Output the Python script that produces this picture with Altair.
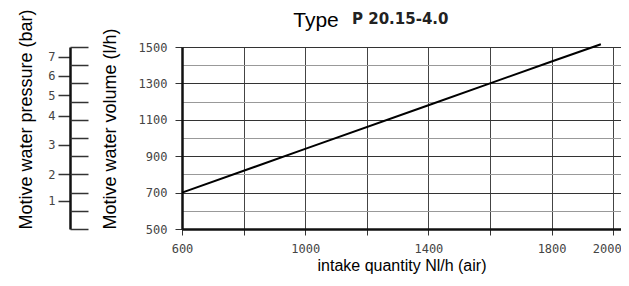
import altair as alt
import pandas as pd

# ---- data ----
intake = [600, 1000, 1400, 1600, 1800, 1960]          # Nl/h (air)
volume = [700, 940, 1180, 1300, 1420, 1515]           # l/h

x_grid = [600, 800, 1000, 1200, 1400, 1600, 1800, 2000]
x_labels = [600, 1000, 1400, 1800, 2000]
y_grid = [500, 600, 700, 800, 900, 1000, 1100, 1200, 1300, 1400, 1500]
y_labels = [500, 700, 900, 1100, 1300, 1500]

pressure_labels = ["1", "2", "3", "4", "5", "6", "7"]
pressure_pos = [654, 802, 962, 1121, 1236, 1341, 1447]   # position on volume scale

title_word = "Type"
title_type = "P 20.15-4.0"

W = 439
H = 182
PRESS_OFFSET = 112

df = pd.DataFrame({"intake": intake, "volume": volume})

yscale = alt.Scale(domain=[500, 1500], nice=False, zero=False)
xscale = alt.Scale(domain=[600, 600 + W / 0.308], nice=False, zero=False)

x_lab_expr = "indexof([" + ",".join(str(v) for v in x_labels) + "], datum.value) >= 0 ? datum.label : ''"
y_lab_expr = "indexof([" + ",".join(str(v) for v in y_labels) + "], datum.value) >= 0 ? datum.label : ''"
y_major_test = "indexof([" + ",".join(str(v) for v in y_labels) + "], datum.value) >= 0"
last_x_test = "datum.value == " + str(x_labels[-1])
p_lab_expr = ("[" + ",".join("'" + s + "'" for s in pressure_labels) + "][indexof(["
              + ",".join(str(v) for v in pressure_pos) + "], datum.value)]")

MONO = "DejaVu Sans Mono"
SANS = "Liberation Sans"

line = alt.Chart(df).mark_line(color="black", strokeWidth=2).encode(
    x=alt.X("intake:Q", scale=xscale, axis=alt.Axis(
        values=x_grid, labelExpr=x_lab_expr, format="d", grid=True,
        gridColor="#444", gridWidth=1, gridOpacity=1,
        domainColor="#111", domainWidth=2.5, tickColor="#333", tickSize=6,
        labelFont=MONO, labelFontSize=12, labelColor="#444", labelPadding=8,
        labelAlign={"condition": {"test": last_x_test, "value": "right"}, "value": "center"},
        labelOffset={"condition": {"test": last_x_test, "value": 8}, "value": 0},
        labelOverlap=False, labelFlush=False,
        title="intake quantity Nl/h (air)", titleFont=SANS, titleFontSize=16,
        titleFontWeight="normal", titleColor="black", titlePadding=3)),
    y=alt.Y("volume:Q", scale=yscale, axis=alt.Axis(
        orient="left", values=y_grid, labelExpr=y_lab_expr, format="d", grid=True,
        gridColor={"condition": {"test": y_major_test, "value": "#333"}, "value": "#999"},
        gridWidth=1, gridOpacity=1,
        domainColor="#111", domainWidth=2.5,
        tickColor={"condition": {"test": y_major_test, "value": "#333"}, "value": "transparent"},
        tickSize=7, labelFont=MONO, labelFontSize=12, labelColor="#444",
        labelPadding=8, labelOverlap=False, labelFlush=False,
        title="Motive water volume (l/h)", titleFont=SANS, titleFontSize=18,
        titleFontWeight="normal", titleColor="black", titleAnchor="start",
        titlePadding=19)),
)

press_axis = alt.Chart(df).mark_point(opacity=0).encode(
    x=alt.value(0),
    y=alt.Y("volume:Q", scale=yscale, axis=alt.Axis(
        orient="left", offset=PRESS_OFFSET, values=pressure_pos, labelExpr=p_lab_expr,
        grid=False, domainColor="#111", domainWidth=2.5, tickColor="#333",
        tickSize=12, tickWidth=1.5, labelFont=MONO, labelFontSize=12,
        labelColor="#444", labelPadding=3, labelOverlap=False, labelFlush=False,
        title="Motive water pressure (bar)", titleFont=SANS, titleFontSize=18,
        titleFontWeight="normal", titleColor="black", titleAnchor="start",
        titlePadding=12)),
)

press_minor = alt.Chart(df).mark_point(opacity=0).encode(
    x=alt.value(0),
    y=alt.Y("volume:Q", scale=yscale, axis=alt.Axis(
        orient="right", offset=-(W + PRESS_OFFSET), values=y_grid, labels=False,
        domain=False, grid=False, tickColor="#333", tickSize=18, tickWidth=1.5,
        title=None)),
)

t1 = alt.Chart(pd.DataFrame({"t": [title_word]})).mark_text(
    font=SANS, fontSize=21, color="black", align="center", baseline="alphabetic"
).encode(text="t:N", x=alt.value(134), y=alt.value(-20))

t2 = alt.Chart(pd.DataFrame({"t": [title_type]})).mark_text(
    font="DejaVu Sans", fontSize=15, fontWeight="bold", color="#222",
    align="left", baseline="alphabetic"
).encode(text="t:N", x=alt.value(170), y=alt.value(-23))

chart = alt.layer(line, press_axis, press_minor, t1, t2).resolve_scale(
    y="independent"
).resolve_axis(y="independent").properties(
    width=W, height=H,
    autosize=alt.AutoSizeParams(type="none"),
    padding={"left": 174, "top": 39, "right": 0, "bottom": 49},
).configure_view(stroke=None).configure(background="white")

chart.save("out.html", embed_options={"renderer": "svg", "actions": False})
